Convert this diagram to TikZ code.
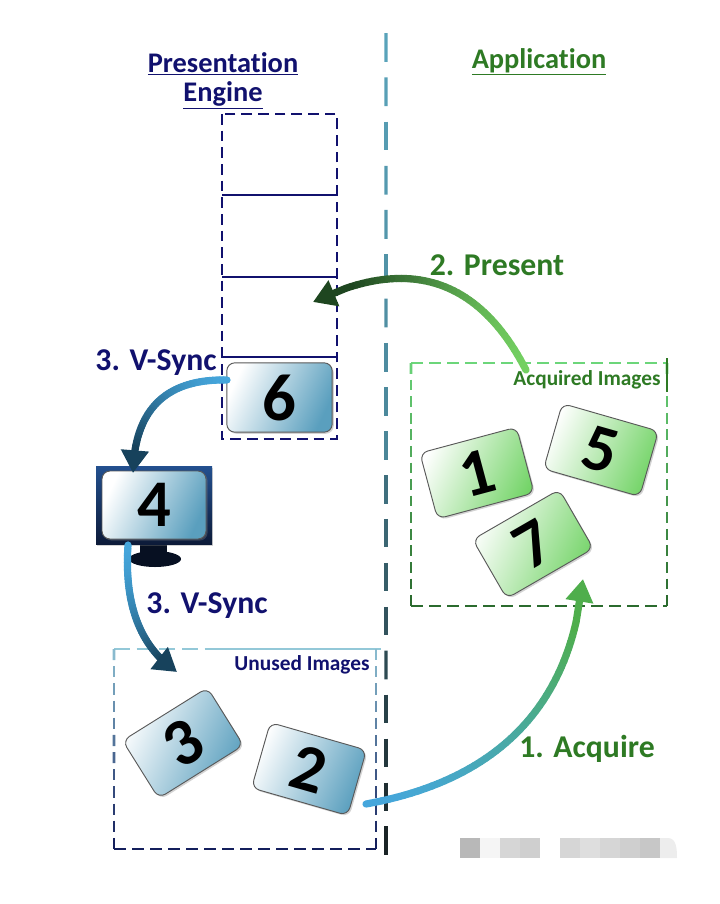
\documentclass[tikz,border=0pt]{standalone}
\usepackage{fontspec}
\setmainfont{Carlito}[Ligatures=NoCommon]
\usetikzlibrary{arrows.meta,calc,shadows}
\definecolor{enginenavy}{HTML}{11116E}
\definecolor{appgreen}{HTML}{2E7A24}
\definecolor{cardblue}{HTML}{5A9FBE}
\definecolor{cardgreen}{HTML}{74D468}
\definecolor{lineteal}{HTML}{5BA6BE}
\definecolor{linedark}{HTML}{1A2426}
\definecolor{boxlightgreen}{HTML}{6CD67A}
\definecolor{boxdarkgreen}{HTML}{2B6B2E}
\definecolor{boxlightblue}{HTML}{93C8D8}
\definecolor{boxdarkblue}{HTML}{141F5C}
\definecolor{arrowblue}{HTML}{45A6DC}
\definecolor{arrowdeep}{HTML}{17425C}
\definecolor{arrowgreen}{HTML}{4FAE4C}
\definecolor{arrowlime}{HTML}{74D062}
\definecolor{arrowforest}{HTML}{1E4620}
\definecolor{monitortop}{HTML}{23508F}
\definecolor{monitorlow}{HTML}{0C1A38}
\tikzset{
  imagecard/.style={rounded corners=6pt, draw=black!65, line width=0.7pt,
    minimum width=75pt, minimum height=51pt, inner sep=0pt,
    font=\fontsize{50}{50}\selectfont\bfseries,
    drop shadow={shadow xshift=1.2pt, shadow yshift=-1.2pt, opacity=0.35}},
  bluecard/.style={imagecard, left color=white, right color=cardblue, shading angle=65},
  greencard/.style={imagecard, left color=white, right color=cardgreen, shading angle=65},
  headlabel/.style={font=\fontsize{21.3}{26}\selectfont\bfseries, inner sep=0pt},
  steplabel/.style={font=\fontsize{23.8}{28}\selectfont\bfseries, inner sep=0pt},
  boxlabel/.style={font=\fontsize{16}{19}\selectfont\bfseries, inner sep=0pt},
  queueline/.style={enginenavy, line width=1.6pt},
}
% a thick quadratic curve whose colour runs from #4 to #5, ending in a tip
\newcommand{\gradarrow}[5]{
  \foreach \i in {1,...,44} {
    \pgfmathsetmacro\ta{(\i-1)/50}
    \pgfmathsetmacro\tb{\i/50}
    \pgfmathtruncatemacro\mixval{100*(\i/44)^1.5}
    \draw[#5!\mixval!#4, line width=5.4pt, line cap=round]
      ($($(#1)!\ta!(#2)$)!\ta!($(#2)!\ta!(#3)$)$) --
      ($($(#1)!\tb!(#2)$)!\tb!($(#2)!\tb!(#3)$)$);
  }
  \draw[#5, line width=5.4pt, -{Triangle[length=17pt, width=20pt]}]
    ($($(#1)!0.88!(#2)$)!0.88!($(#2)!0.88!(#3)$)$) -- (#3);
}
% a dashed line of #5 dashes whose colour runs from #3 to #4
\newcommand{\graddash}[5]{
  \foreach \i in {1,...,#5} {
    \pgfmathsetmacro\ta{(\i-1)/(#5-0.35)}
    \pgfmathsetmacro\tb{(\i-0.35)/(#5-0.35)}
    \pgfmathtruncatemacro\mixval{\i*100/#5}
    \draw[#4!\mixval!#3, line width=\dashwidth]
      ($(#1)!\ta!(#2)$) -- ($(#1)!\tb!(#2)$);
  }
}
\newcommand{\dashwidth}{1.6pt}
\begin{document}
\begin{tikzpicture}[x=0.75pt, y=-0.75pt]
    \useasboundingbox (0,0) rectangle (720,904);

    % Central divider
    \coordinate (divtop) at (386,33);
    \coordinate (divmid) at (386,460);
    \coordinate (divlow) at (386,855);
    \renewcommand{\dashwidth}{2.4pt}
    \graddash{divtop}{divmid}{lineteal}{lineteal!75!linedark}{10}
    \coordinate (divmidb) at (386,475);
    \graddash{divmidb}{divlow}{lineteal!65!linedark}{linedark}{9}

    % Headings
    \node[headlabel, enginenavy] (presentation) at (223,64) {\underline{Presentation}};
    \node[headlabel, enginenavy] (engine) at (223,95) {\underline{Engine}};
    \node[headlabel, appgreen] (application) at (539,62) {\underline{Application}};

    % Presentation queue
    \draw[queueline, dash pattern=on 8pt off 4.5pt] (222,114) rectangle (337,439);
    \draw[queueline] (222,195) -- (337,195);
    \draw[queueline] (222,277) -- (337,277);
    \draw[queueline] (222,357) -- (337,357);

    % Acquired images box
    \renewcommand{\dashwidth}{2pt}
    \coordinate (acqtl) at (411,363);
    \coordinate (acqtr) at (667,363);
    \coordinate (acqbl) at (411,606);
    \coordinate (acqbr) at (667,606);
    \draw[boxlightgreen, line width=2pt, dash pattern=on 9pt off 4.5pt] (acqtl) -- (acqtr);
    \draw[boxdarkgreen, line width=2pt, dash pattern=on 9pt off 4.5pt] (acqbl) -- (acqbr);
    \graddash{acqtl}{acqbl}{boxlightgreen}{boxdarkgreen}{15}
    \graddash{acqtr}{acqbr}{boxlightgreen}{boxdarkgreen}{15}
    \draw[appgreen, line width=1.2pt] (667,358) -- (667,392);
    \node[boxlabel, appgreen] (acquired) at (587,380) {Acquired Images};

    % Unused images box
    \coordinate (unutl) at (114,649);
    \coordinate (unutr) at (376,649);
    \coordinate (unubl) at (114,849);
    \coordinate (unubr) at (376,849);
    \draw[boxlightblue, line width=2pt, dash pattern=on 12pt off 5pt] (unutl) -- (213,649);
    \draw[boxlightblue, line width=2pt] (213,649) -- (381,649);
    \draw[boxdarkblue, line width=2pt, dash pattern=on 9pt off 4.5pt] (unubl) -- (unubr);
    \graddash{unutl}{unubl}{boxlightblue}{boxdarkblue}{12}
    \graddash{unutr}{unubr}{boxlightblue}{boxdarkblue}{12}
    \node[boxlabel, enginenavy] (unused) at (302,665) {Unused Images};

    % Monitor
    \fill[monitorlow!60!black] (140,545) rectangle (167,556);
    \fill[monitorlow!60!black] (155,559) ellipse (26 and 8);
    \node[top color=monitortop, bottom color=monitorlow, minimum width=87pt,
      minimum height=59pt, inner sep=0pt,
      drop shadow={shadow xshift=1pt, shadow yshift=-1pt, opacity=0.35}] (monitor) at (154,505.5) {};

    % Images
    \node[bluecard, minimum width=79pt, minimum height=52pt] (card6) at (279.5,397.5) {6};
    \node[bluecard, minimum width=78pt, minimum height=51pt] (card4) at (154,505) {4};
    \node[bluecard, rotate=32] (card3) at (183,743) {3};
    \node[bluecard, rotate=-16] (card2) at (309,769) {2};
    \node[greencard, rotate=15] (card1) at (477,473) {1};
    \node[greencard, rotate=-16] (card5) at (601,450) {5};
    \node[greencard, rotate=30] (card7) at (533,544) {7};

    % Arrows
    \coordinate (syncA) at (227,380);
    \coordinate (syncActrl) at (135,378);
    \coordinate (syncAend) at (133,473);
    \gradarrow{syncA}{syncActrl}{syncAend}{arrowblue}{arrowdeep}
    \coordinate (syncB) at (128,545);
    \coordinate (syncBctrl) at (122,635);
    \coordinate (syncBend) at (177,672);
    \gradarrow{syncB}{syncBctrl}{syncBend}{arrowblue}{arrowdeep}
    \coordinate (acq) at (366,804);
    \coordinate (acqctrl) at (565,768);
    \coordinate (acqend) at (583,579);
    \gradarrow{acq}{acqctrl}{acqend}{arrowblue}{arrowgreen}
    \coordinate (pres) at (526,370);
    \coordinate (presctrl) at (455,232);
    \coordinate (presend) at (313,302);
    \gradarrow{pres}{presctrl}{presend}{arrowlime}{arrowforest}

    % Step labels
    \node[steplabel, enginenavy] (sync1) at (156,363) {3. V-Sync};
    \node[steplabel, enginenavy] (sync2) at (207,606) {3. V-Sync};
    \node[steplabel, appgreen] (present) at (497,265) {2. Present};
    \node[steplabel, appgreen] (acquire) at (587,749) {1. Acquire};

    % Blurred mark
    \foreach \x/\g in {460/28, 480/4, 500/16, 520/19, 560/16, 580/13, 600/16, 620/19, 640/22}
        \fill[black!\g] (\x,838) rectangle ++(20,20);
    \fill[black!7] (660,838) -- (668,838) to[out=0, in=90] (677,858) -- (660,858) -- cycle;
\end{tikzpicture}
\end{document}
